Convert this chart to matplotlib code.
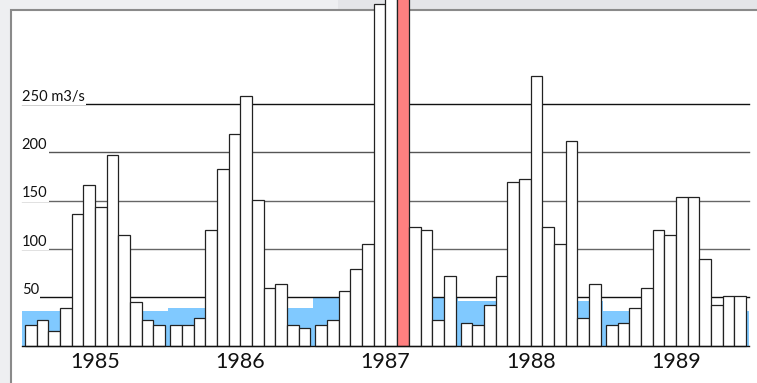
# Monthly discharge 1985 - 1989, bar chart with low-flow band

import matplotlib.pyplot as plt
from matplotlib.patches import Rectangle

# years shown, one group of 12 monthly bars each
years = ['1985', '1986', '1987', '1988', '1989']

# monthly discharge (m3/s)
flow_1985 = [21, 27, 15, 39, 136, 166, 144, 197, 115, 45, 27, 21]
flow_1986 = [21, 21, 29, 120, 183, 219, 258, 151, 60, 64, 21, 18]
flow_1987 = [21, 27, 57, 79, 105, 354, 380, 410, 123, 120, 27, 72]
flow_1988 = [24, 21, 42, 72, 169, 173, 279, 123, 105, 212, 29, 64]
flow_1989 = [21, 24, 39, 60, 120, 115, 154, 154, 90, 42, 51, 51]
flows = [flow_1985, flow_1986, flow_1987, flow_1988, flow_1989]

# yearly low-flow level (blue band)
low_flow = [36, 39, 49, 46, 36]

# highlighted month (year index, month index)
peak = (2, 7)

# gridline levels and their labels
grid_levels = [50, 100, 150, 200, 250]
grid_labels = ['50', '100', '150', '200', '250 m3/s']
grid_colors = ['#111111', '#666666', '#666666', '#555555', '#111111']

plt.rcParams['font.family'] = ['Lato', 'DejaVu Sans']

fig = plt.figure(figsize=(7.57, 3.83), dpi=100, facecolor='#eeeff1')

# darker strip at the top right of the background
fig.patches.append(Rectangle((338 / 757, 1 - 10 / 383), 1, 1, transform=fig.transFigure,
                             facecolor='#e4e5e8', edgecolor='none', zorder=-3))
# white panel
fig.patches.append(Rectangle((11 / 757, -0.1), 1.1, 1.1 - 10 / 383, transform=fig.transFigure,
                             facecolor='white', edgecolor='#8a8a8a', linewidth=1.5, zorder=-2))

ax = fig.add_axes([0, 0, 1, 1])
ax.patch.set_visible(False)
ax.axis('off')

# one bar = 1 unit, small gap between years
gap = 0.432
group = 12 + gap
px = 11.68  # pixels per unit
ax.set_xlim(-25 / px, (757 - 25) / px)
ax.set_ylim(-(383 - 345.7) / 0.966, 345.7 / 0.966)

x_left = -0.28
x_right = 4 * group + 12 + 0.28

# blue low-flow band, stepping at the gaps between years
edges = [x_left] + [g * group + 12 + gap / 2 for g in range(4)] + [x_right]
for g, lvl in enumerate(low_flow):
    ax.fill_between([edges[g], edges[g + 1]], 0, lvl, color='#80c9ff', linewidth=0, zorder=1)

# gridlines with labels at the left
for lvl, lab, col in zip(grid_levels, grid_labels, grid_colors):
    ax.plot([x_left, x_right], [lvl, lvl], color=col, linewidth=1.0, zorder=2)
    ax.annotate(lab, xy=(x_left, lvl), xytext=(0, 2.4), textcoords='offset points',
                ha='left', va='baseline', fontsize=10.5, color='#111111', zorder=3,
                bbox=dict(facecolor='white', edgecolor='none', pad=1.2))

# monthly bars
for g, vals in enumerate(flows):
    for m, v in enumerate(vals):
        fc = '#ff8080' if (g, m) == peak else 'white'
        ax.bar(g * group + m + 0.5, v, width=1.0, facecolor=fc, edgecolor='#222222',
               linewidth=0.9, zorder=4, clip_on=False)

# baseline
ax.plot([x_left, x_right], [0, 0], color='#111111', linewidth=1.0, zorder=5)

# year labels under each group
for g, yr in enumerate(years):
    ax.text(g * group + 6, -23.4, yr, ha='center', va='baseline', fontsize=15.5, color='#111111')

plt.savefig('out.png', dpi=100, facecolor=fig.get_facecolor())
